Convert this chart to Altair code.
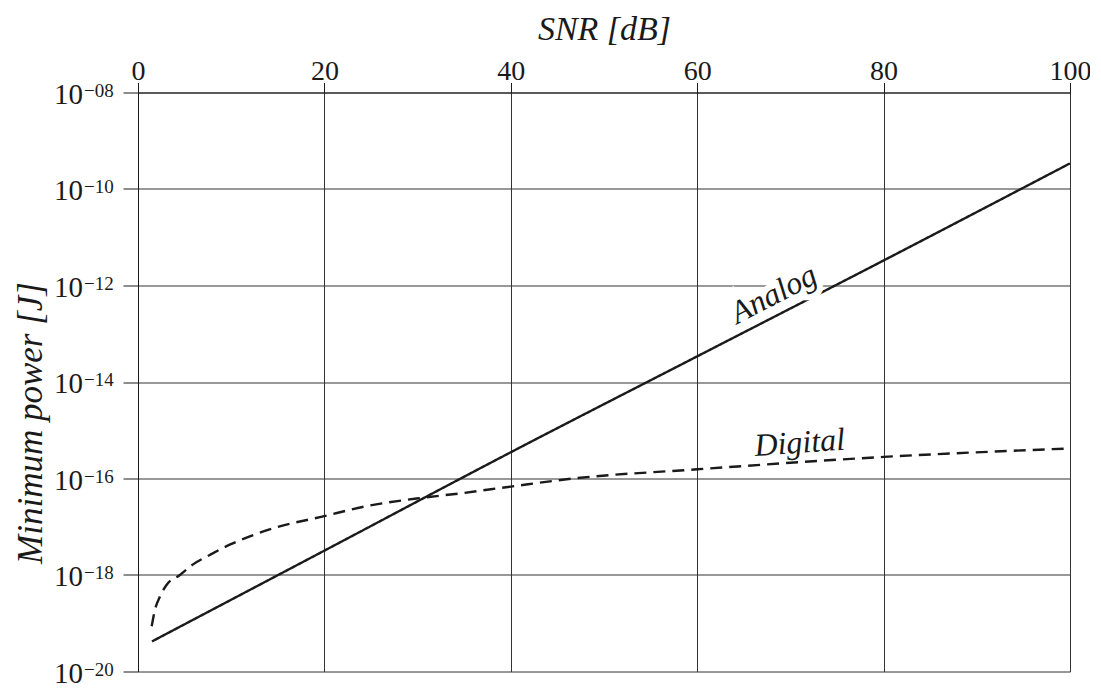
import altair as alt
import pandas as pd

# ---- data ----
snr_analog = [1.5, 20, 40, 60, 80, 100]
p_analog = [4.2e-20, 3.2e-18, 3.5e-16, 3.4e-14, 3.3e-12, 3.4e-10]

snr_digital = [1.47, 1.82, 2.36, 3.08, 4.5, 5.9, 7.7, 9.9, 12.0, 14.5, 20.0, 24.2,
               30.6, 34.5, 40, 46.7, 60, 80, 100]
p_digital = [8.7e-20, 1.9e-19, 3.6e-19, 6.3e-19, 1.0e-18, 1.66e-18, 2.6e-18,
             4.3e-18, 6.3e-18, 9.3e-18, 1.66e-17, 2.6e-17, 4.0e-17, 4.9e-17,
             6.8e-17, 1.0e-16, 1.55e-16, 2.8e-16, 4.2e-16]

x_ticks = [0, 20, 40, 60, 80, 100]
y_ticks = [1e-8, 1e-10, 1e-12, 1e-14, 1e-16, 1e-18, 1e-20]
y_exponents = ["\u221208", "\u221210", "\u221212", "\u221214", "\u221216", "\u221218", "\u221220"]

label_text = ["Analog", "Digital"]
label_snr = [68.2, 71.0]
label_p = [6.6e-13, 5.5e-16]
label_angle = [332.6, 356.0]

FONT = "'Liberation Serif', 'DejaVu Serif', serif"
INK = "#1a1a1a"

curves = pd.DataFrame({
    "snr": snr_analog + snr_digital,
    "p": p_analog + p_digital,
    "kind": ["Analog"] * len(snr_analog) + ["Digital"] * len(snr_digital),
})
ylab = pd.DataFrame({"p": y_ticks, "exp": y_exponents})
ann = pd.DataFrame({"snr": label_snr, "p": label_p, "label": label_text, "angle": label_angle})

x_scale = alt.Scale(domain=[0, 100], nice=False)
y_scale = alt.Scale(type="log", domain=[1e-20, 1e-8], nice=False)

x_axis = alt.Axis(
    orient="top", values=x_ticks, title="SNR [dB]",
    titleFont=FONT, titleFontStyle="italic", titleFontWeight="normal",
    titleFontSize=34, titleColor=INK, titleX=466, titleY=-53.5,
    titleBaseline="alphabetic", titleAlign="center",
    labelFont=FONT, labelFontSize=28, labelColor=INK, labelBaseline="alphabetic",
    labelPadding=3, labelFlush=False, labelOverlap=False,
    tickSize=10, tickColor=INK, tickWidth=1,
    domainColor=INK, domainWidth=1,
    grid=True, gridColor="#333333", gridWidth=1,
)
y_axis = alt.Axis(
    orient="left", values=y_ticks, labels=False, title="Minimum power [J]",
    titleFont=FONT, titleFontStyle="italic", titleFontWeight="normal",
    titleFontSize=35, titleColor=INK, titleAngle=270, titleX=-97, titleY=330,
    titleBaseline="alphabetic", titleAlign="center",
    tickSize=15, tickColor=INK, tickWidth=1,
    domainColor=INK, domainWidth=1,
    grid=True, gridColor="#333333", gridWidth=1,
)


def X(field="snr"):
    return alt.X(f"{field}:Q", scale=x_scale, axis=x_axis)


def Y(field="p"):
    return alt.Y(f"{field}:Q", scale=y_scale, axis=y_axis)


lines = alt.Chart(curves).mark_line(strokeWidth=2.4, color=INK, interpolate="monotone").encode(
    x=X(), y=Y(),
    strokeDash=alt.StrokeDash("kind:N", scale=alt.Scale(domain=["Analog", "Digital"],
                                                         range=[[1, 0], [12, 7]]), legend=None),
    detail="kind:N",
)

tens = alt.Chart(ylab).mark_text(font=FONT, fontSize=29, align="right", baseline="alphabetic",
                                 dy=11, color=INK, text="10").encode(
    x=alt.value(-55), y=Y())
exps = alt.Chart(ylab).mark_text(font=FONT, fontSize=19, align="left", baseline="alphabetic",
                                 dy=4, color=INK).encode(
    x=alt.value(-54), y=Y(), text="exp:N")

halo = alt.Chart(ann).transform_filter(alt.datum.label == "Analog").mark_text(
    font=FONT, fontStyle="italic", fontSize=32, align="center", baseline="middle",
    fill="white", stroke="white", strokeWidth=12).encode(
    x=X(), y=Y(), text="label:N", angle=alt.Angle("angle:Q", scale=None))
labels = alt.Chart(ann).mark_text(
    font=FONT, fontStyle="italic", fontSize=32, align="center", baseline="middle",
    color=INK).encode(
    x=X(), y=Y(), text="label:N", angle=alt.Angle("angle:Q", scale=None))

chart = alt.layer(lines, halo, labels, tens, exps).properties(
    width=932, height=579,
    autosize=alt.AutoSizeParams(type="none"),
    padding={"left": 130, "top": 84.5, "right": 20, "bottom": 17},
    background="white",
).configure_view(stroke=None)

chart.save("out.html", embed_options={"renderer": "svg", "actions": False})
